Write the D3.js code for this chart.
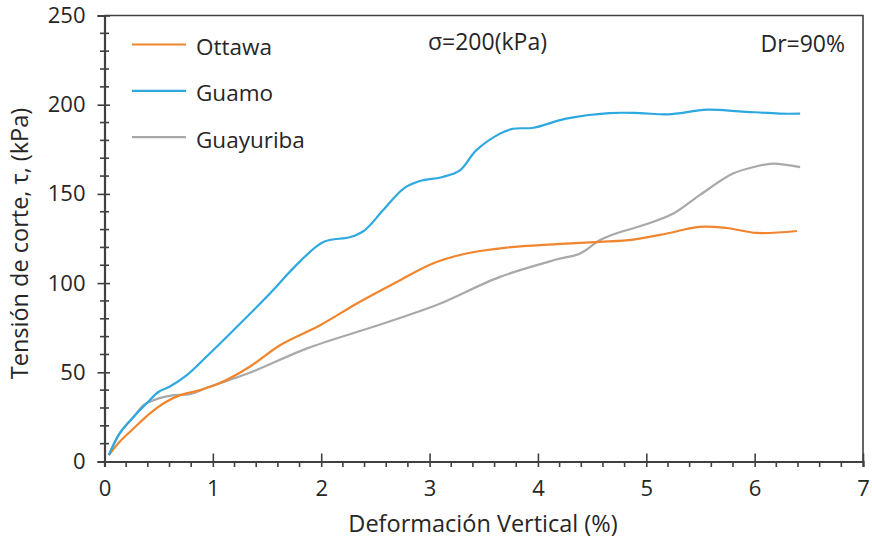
<!DOCTYPE html>
<html>
<head>
<meta charset="utf-8">
<script src="https://cdn.jsdelivr.net/npm/d3@7"></script>
<style>
  html, body { margin: 0; padding: 0; background: #fff; }
  svg text { font-family: "Open Sans", "Noto Sans", sans-serif; fill: #262626; }
</style>
</head>
<body>
<svg id="chart" width="872" height="542"></svg>
<script>
// Deformación vertical (%) vs. tensión de corte (kPa), Dr = 90 %, σ = 200 kPa
const seriesNames = ["Ottawa", "Guamo", "Guayuriba"];
const seriesColors = ["#F0852D", "#2EA8E0", "#A9A9A9"];

const ottawaX = [0.04, 0.14, 0.27, 0.42, 0.57, 0.70, 0.88, 1.07, 1.34, 1.62, 1.99, 2.33, 2.70, 3.03, 3.34, 3.71, 4.17, 4.57, 4.88, 5.19, 5.49, 5.74, 6.02, 6.39];
const ottawaY = [3.6, 11.1, 18.6, 27, 33.5, 37.2, 40, 44.1, 53.1, 65.2, 76.4, 88.6, 100.7, 111, 116.6, 119.9, 121.8, 123.1, 124.4, 127.8, 131.5, 130.9, 128.1, 129.2];

const guamoX = [0.04, 0.14, 0.27, 0.39, 0.50, 0.60, 0.76, 0.94, 1.19, 1.50, 1.80, 2.02, 2.27, 2.40, 2.57, 2.76, 2.91, 3.12, 3.28, 3.43, 3.65, 3.77, 3.96, 4.26, 4.66, 4.94, 5.20, 5.56, 5.86, 6.23, 6.42];
const guamoY = [3.6, 15.8, 25.1, 32.6, 39.1, 41.9, 48.4, 58.7, 73.6, 92.5, 111.9, 123.1, 125.8, 129.6, 140.8, 153, 157.2, 159.5, 163.2, 174.4, 183.8, 186.5, 187.1, 192.2, 195.3, 195.3, 194.6, 197.2, 196.3, 195, 195];

const guayuribaX = [0.04, 0.14, 0.27, 0.36, 0.50, 0.64, 0.79, 0.97, 1.34, 1.87, 2.48, 2.80, 3.10, 3.65, 4.17, 4.39, 4.57, 4.72, 4.97, 5.25, 5.49, 5.80, 6.02, 6.17, 6.42];
const guayuribaY = [3.6, 15.8, 25.1, 31.6, 35.4, 37.2, 37.8, 41.9, 49.7, 63.4, 75.5, 82, 88.6, 103.5, 113.2, 116.6, 124, 127.8, 132.4, 139, 149.2, 161.4, 165.5, 167, 165];

const xTicks = [0, 1, 2, 3, 4, 5, 6, 7];
const yTicks = [0, 50, 100, 150, 200, 250];
const xTitle = "Deformación Vertical (%)";
const yTitle = "Tensión de corte, τ, (kPa)";
const notes = ["σ=200(kPa)", "Dr=90%"];

const svg = d3.select("#chart");
const x = d3.scaleLinear().domain([0, 7]).range([104.5, 863]);
const y = d3.scaleLinear().domain([0, 250]).range([461.5, 15.5]);
const axisColor = "#404040";

// frame: top and right border
svg.append("path")
  .attr("d", `M${x(0)},${y(250)}H${x(7)}V${y(0)}`)
  .attr("fill", "none").attr("stroke", axisColor).attr("stroke-width", 1.6);

// minor ticks (y every 10, crossing; x every 0.2, outward)
const yMinor = d3.range(10, 250, 10).filter(v => v % 50 !== 0);
svg.append("g").selectAll("line").data(yMinor).join("line")
  .attr("x1", x(0) - 4.5).attr("x2", x(0) + 4.5)
  .attr("y1", d => y(d)).attr("y2", d => y(d))
  .attr("stroke", axisColor).attr("stroke-width", 1.6);
const xMinor = d3.range(0.2, 7, 0.2).filter(v => Math.abs(v - Math.round(v)) > 0.01);
svg.append("g").selectAll("line").data(xMinor).join("line")
  .attr("x1", d => x(d)).attr("x2", d => x(d))
  .attr("y1", y(0)).attr("y2", y(0) + 5.5)
  .attr("stroke", axisColor).attr("stroke-width", 1.6);

// y axis
const gy = svg.append("g").attr("transform", `translate(${x(0)},0)`)
  .call(d3.axisLeft(y).tickValues(yTicks).tickSize(7).tickPadding(12).tickFormat(d3.format("d")));
gy.select(".domain").attr("stroke", axisColor).attr("stroke-width", 2.2);
gy.selectAll(".tick line").attr("stroke", axisColor).attr("stroke-width", 1.6);
gy.selectAll(".tick").append("line").attr("x1", 0).attr("x2", 5.5)
  .attr("stroke", axisColor).attr("stroke-width", 1.6);
gy.selectAll(".tick text").attr("font-size", 22).attr("font-family", null).attr("fill", "#262626");

// x axis
const gx = svg.append("g").attr("transform", `translate(0,${y(0)})`)
  .call(d3.axisBottom(x).tickValues(xTicks).tickSize(5.5).tickPadding(13).tickFormat(d3.format("d")));
gx.select(".domain").attr("stroke", axisColor).attr("stroke-width", 2.2);
gx.selectAll(".tick line").attr("stroke", axisColor).attr("stroke-width", 1.6);
gx.selectAll(".tick").append("line").attr("y1", 0).attr("y2", -8)
  .attr("stroke", axisColor).attr("stroke-width", 1.6);
gx.selectAll(".tick text").attr("font-size", 22).attr("font-family", null).attr("fill", "#262626");

// axis titles
svg.append("text").attr("x", 483).attr("y", 532)
  .attr("text-anchor", "middle").attr("font-size", 23.5).text(xTitle);
svg.append("text").attr("transform", `translate(28,${y(125) + 5}) rotate(-90)`)
  .attr("text-anchor", "middle").attr("font-size", 23.5).text(yTitle);

// curves
const line = d3.line().x(d => x(d[0])).y(d => y(d[1])).curve(d3.curveCatmullRom.alpha(0.5));
const series = [
  d3.zip(ottawaX, ottawaY),
  d3.zip(guamoX, guamoY),
  d3.zip(guayuribaX, guayuribaY)
];
// gray first, then orange, blue on top
[2, 0, 1].forEach(i => {
  svg.append("path").datum(series[i])
    .attr("d", line)
    .attr("fill", "none")
    .attr("stroke", seriesColors[i])
    .attr("stroke-width", 2.2)
    .attr("stroke-linejoin", "round");
});

// legend
const legend = svg.append("g");
seriesNames.forEach((name, i) => {
  const ly = 44.5 + i * 46.3;
  legend.append("line").attr("x1", 132).attr("x2", 186).attr("y1", ly).attr("y2", ly)
    .attr("stroke", seriesColors[i]).attr("stroke-width", 2.2);
  legend.append("text").attr("x", 196).attr("y", ly + 10.5).attr("font-size", 22.5).text(name);
});

// annotations
svg.append("text").attr("x", 428).attr("y", 50).attr("font-size", 23).text(notes[0]);
svg.append("text").attr("x", 845).attr("y", 51.5).attr("text-anchor", "end").attr("font-size", 23).text(notes[1]);
</script>
</body>
</html>
